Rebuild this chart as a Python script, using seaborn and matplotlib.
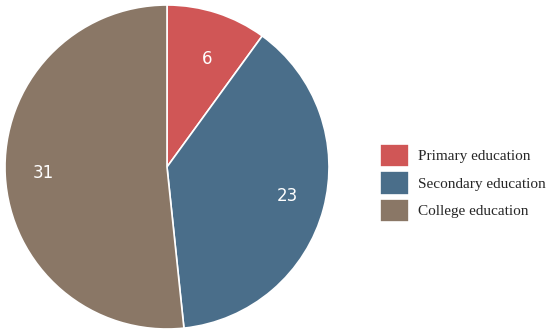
import matplotlib
matplotlib.use("Agg")
import matplotlib.pyplot as plt
import seaborn as sns

categories = ["Primary education", "Secondary education", "College education"]
values = [6, 23, 31]
colors = ["#D05656", "#4A6E8A", "#8A7766"]

sns.set_theme(style="white")
plt.rcParams["font.family"] = ["DejaVu Sans"]

fig = plt.figure(figsize=(5.5, 3.34), dpi=100)
ax = fig.add_axes([5 / 550, 5 / 334, 324 / 550, 324 / 334])

wedges, texts = ax.pie(
    values,
    colors=colors,
    startangle=90,
    counterclock=False,
    labels=[str(v) for v in values],
    labeldistance=0.70,
    wedgeprops=dict(edgecolor="white", linewidth=1.2),
    textprops=dict(color="white", fontsize=12),
)
ax.set_xlim(-1, 1)
ax.set_ylim(-1, 1)
ax.set_aspect("equal")

fig.legend(
    wedges,
    categories,
    loc="center left",
    bbox_to_anchor=(380 / 550, 1 - 183 / 334),
    frameon=False,
    borderpad=0,
    borderaxespad=0,
    prop=dict(family="Liberation Serif", size=11),
    handlelength=1.9,
    handleheight=2.0,
    handletextpad=0.6,
    labelspacing=0.25,
)

fig.savefig("out.png", dpi=100)
